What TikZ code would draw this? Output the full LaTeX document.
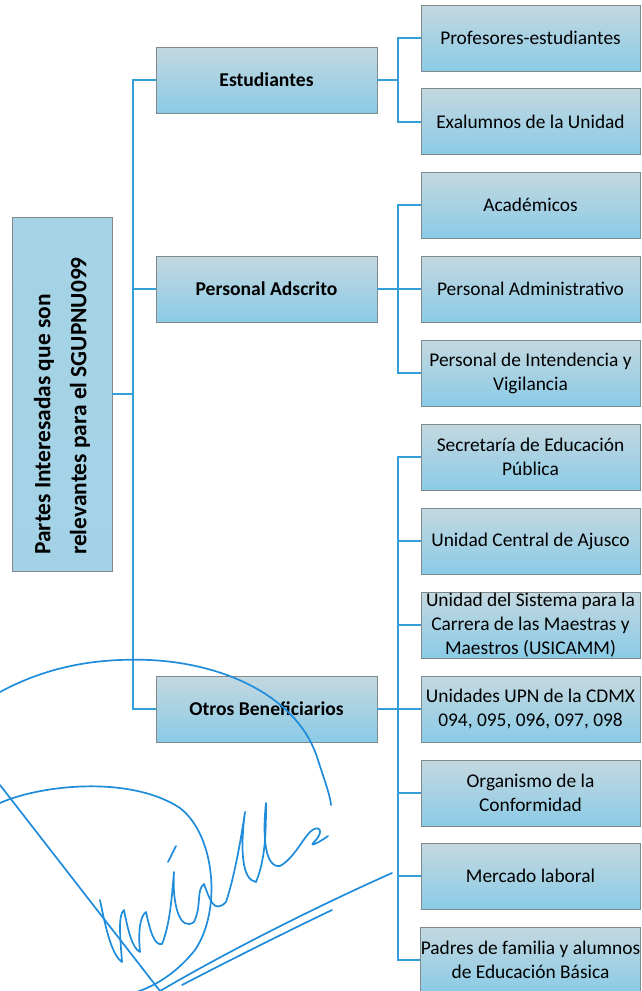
\documentclass[tikz,border=0pt]{standalone}
\usepackage{fontspec}
\setmainfont{Carlito}
\definecolor{boxtop}{RGB}{196,216,224}
\definecolor{boxbot}{RGB}{138,203,230}
\definecolor{boxline}{RGB}{128,138,140}
\definecolor{rootfill}{RGB}{166,211,230}
\definecolor{linkblue}{RGB}{52,158,216}
\definecolor{signblue}{RGB}{30,140,218}
\tikzset{
  pbox/.style={draw=boxline, line width=0.9pt, top color=boxtop, bottom color=boxbot, inner sep=0pt, align=center},
  childbox/.style={pbox, minimum width=219pt, minimum height=66pt, font=\fontsize{19.4}{24}\selectfont},
  midbox/.style={pbox, minimum width=221pt, minimum height=66pt, font=\fontsize{19.6}{24}\selectfont\bfseries},
  rootbox/.style={pbox, top color=rootfill, bottom color=rootfill!90!boxbot, minimum width=354pt, minimum height=100pt, align=left, font=\fontsize{23.4}{36}\selectfont\bfseries},
  link/.style={draw=linkblue, line width=2pt},
  sign/.style={draw=signblue, line width=1.7pt, line cap=round, line join=round}
}
\begin{document}
\begin{tikzpicture}[x=1pt,y=-1pt]
\useasboundingbox (0,0) rectangle (641,991);
% root
\node[rootbox, rotate=90] (root) at (62,394) {Partes Interesadas que son\\relevantes para el SGUPNU099\hspace*{24pt}};
% middle level
\node[midbox] (est) at (266.5,80) {Estudiantes};
\node[midbox] (pers) at (266.5,289) {Personal Adscrito};
\node[midbox] (otros) at (266.5,709) {Otros Beneficiarios};
% children
\node[childbox] (prof) at (530.5,38) {Profesores-estudiantes};
\node[childbox] (exal) at (530.5,121.5) {Exalumnos de la Unidad};
\node[childbox] (acad) at (530.5,205) {Académicos};
\node[childbox] (adm) at (530.5,289) {Personal Administrativo};
\node[childbox] (int) at (530.5,373) {Personal de Intendencia y\\Vigilancia};
\node[childbox] (sep) at (530.5,457) {Secretaría de Educación\\Pública};
\node[childbox] (ajus) at (530.5,541) {Unidad Central de Ajusco};
\node[childbox] (usi) at (530.5,625) {Unidad del Sistema para la\\Carrera de las Maestras y\\Maestros (USICAMM)};
\node[childbox] (upn) at (530.5,709) {Unidades UPN de la CDMX\\094, 095, 096, 097, 098};
\node[childbox] (org) at (530.5,793) {Organismo de la\\Conformidad};
\node[childbox] (merc) at (530.5,876) {Mercado laboral};
\node[childbox] (pad) at (530.5,960) {Padres de familia y alumnos\\de Educación Básica};
% connectors root -> middle
\foreach \m in {est,pers,otros}
  \draw[link] (root.south) -- ++(21,0) |- (\m.west);
% connectors middle -> children
\foreach \c in {prof,exal}
  \draw[link] (est.east) -- ++(20.5,0) |- (\c.west);
\foreach \c in {acad,adm,int}
  \draw[link] (pers.east) -- ++(20.5,0) |- (\c.west);
\foreach \c in {sep,ajus,usi,upn,org,merc,pad}
  \draw[link] (otros.east) -- ++(20.5,0) |- (\c.west);
% signature
\draw[sign] (0,692) .. controls (50,665) and (100,658) .. (150,660)
  .. controls (230,664) and (300,700) .. (318,760)
  .. controls (326,785) and (330,795) .. (331,805);
\draw[sign] (0,803) .. controls (40,785) and (130,775) .. (180,808)
  .. controls (215,835) and (222,910) .. (195,950)
  .. controls (175,975) and (150,990) .. (125,995);
\draw[sign] (0,785) -- (160,991);
\draw[sign] (100,900) .. controls (106,930) and (112,955) .. (122,962)
  .. controls (120,935) and (118,915) .. (124,910)
  .. controls (128,930) and (132,948) .. (140,952)
  .. controls (138,932) and (140,916) .. (146,912)
  .. controls (150,930) and (154,946) .. (162,944)
  .. controls (170,925) and (172,895) .. (174,872)
  .. controls (172,905) and (180,932) .. (194,922)
  .. controls (202,905) and (196,890) .. (204,884)
  .. controls (210,900) and (214,914) .. (226,902)
  .. controls (234,878) and (240,845) .. (245,812)
  .. controls (240,850) and (242,880) .. (256,882)
  .. controls (266,858) and (266,828) .. (266,803)
  .. controls (262,840) and (266,868) .. (280,866)
  .. controls (294,858) and (302,840) .. (310,832)
  .. controls (318,824) and (326,830) .. (314,842)
  .. controls (308,848) and (320,842) .. (328,836);
\draw[sign] (168,862) -- (176,846);
\draw[sign] (160,991) .. controls (230,950) and (320,905) .. (392,873);
\draw[sign] (182,985) .. controls (230,960) and (290,930) .. (332,910);
\end{tikzpicture}
\end{document}
